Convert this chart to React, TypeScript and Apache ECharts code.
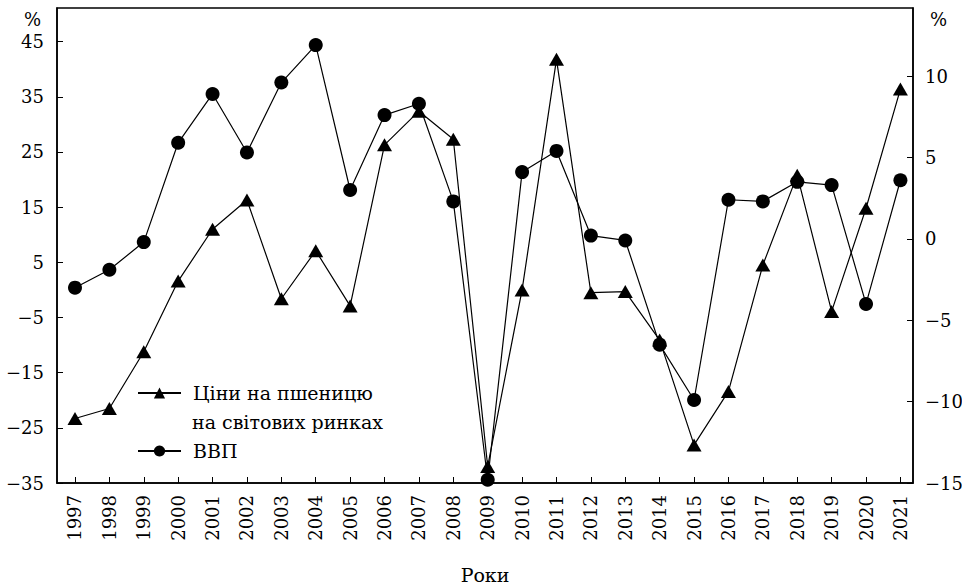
import React, { useEffect, useRef } from "react";
import * as echarts from "echarts";

const years = [1997, 1998, 1999, 2000, 2001, 2002, 2003, 2004, 2005, 2006, 2007, 2008, 2009, 2010, 2011, 2012, 2013, 2014, 2015, 2016, 2017, 2018, 2019, 2020, 2021];
const wheatPrices = [-23.3, -21.5, -11.2, 1.6, 11.0, 16.3, -1.6, 7.1, -2.9, 26.3, 32.4, 27.3, -32.0, 0.0, 41.8, -0.5, -0.3, -9.1, -28.1, -18.4, 4.5, 20.8, -3.9, 14.8, 36.4];
const gdp = [-3.0, -1.9, -0.2, 5.9, 8.9, 5.3, 9.6, 11.9, 3.0, 7.6, 8.3, 2.3, -14.8, 4.1, 5.4, 0.2, -0.1, -6.5, -9.9, 2.4, 2.3, 3.5, 3.3, -4.0, 3.6];
const leftTicks = [-35, -25, -15, -5, 5, 15, 25, 35, 45];
const rightTicks = [-15, -10, -5, 0, 5, 10];
const wheatName = "Ціни на пшеницю";
const wheatName2 = "на світових ринках";
const gdpName = "ВВП";
const xName = "Роки";

const FONT = "DejaVu Serif";
const fmt = (v: number) => (v < 0 ? "\u2212" + Math.abs(v) : String(v));

export default function App() {
  const ref = useRef<HTMLDivElement>(null);
  useEffect(() => {
    if (!ref.current) return;
    const chart = echarts.init(ref.current, undefined, { renderer: "svg" });
    const labelStyle = { color: "#000", fontFamily: FONT, fontSize: 18 };
    chart.setOption({
      animation: false,
      backgroundColor: "#fff",
      textStyle: { fontFamily: FONT },
      grid: { left: 57, top: 8, right: 49, bottom: 104, show: true, borderColor: "#000", borderWidth: 1.5, outerBoundsMode: "none", containLabel: false },
      legend: {
        orient: "vertical",
        left: 137,
        top: 382,
        padding: 0,
        itemWidth: 43,
        itemHeight: 14,
        itemGap: 36,
        textStyle: { color: "#000", fontFamily: FONT, fontSize: 19, lineHeight: 22, padding: [0, 0, 0, 7] },
        data: [wheatName, gdpName],
      },
      xAxis: {
        type: "value",
        min: 1996.477,
        max: 2021.366,
        name: xName,
        nameLocation: "middle",
        nameGap: 82,
        nameTextStyle: { ...labelStyle, fontSize: 19 },
        axisLine: { show: true, onZero: false, lineStyle: { color: "#000", width: 1.5 } },
        axisTick: { show: true, inside: true, length: 6, customValues: years, lineStyle: { color: "#000", width: 1 } },
        axisLabel: { ...labelStyle, rotate: 90, margin: 12, customValues: years, formatter: (v: number) => String(v) },
        splitLine: { show: false },
      },
      yAxis: [
        {
          type: "value",
          min: -35,
          max: 51.1,
          position: "left",
          axisLine: { show: true, onZero: false, lineStyle: { color: "#000", width: 1.5 } },
          axisTick: { show: true, inside: true, length: 6, customValues: leftTicks, lineStyle: { color: "#000", width: 1 } },
          axisLabel: { ...labelStyle, margin: 13, customValues: leftTicks, formatter: fmt },
          splitLine: { show: false },
        },
        {
          type: "value",
          min: -15,
          max: 14.18,
          position: "right",
          axisLine: { show: true, onZero: false, lineStyle: { color: "#000", width: 1.5 } },
          axisTick: { show: true, inside: true, length: 6, customValues: rightTicks, lineStyle: { color: "#000", width: 1 } },
          axisLabel: { ...labelStyle, margin: 12, customValues: rightTicks, formatter: fmt },
          splitLine: { show: false },
        },
      ],
      graphic: [
        { type: "text", left: 24, top: 10, style: { text: "%", fill: "#000", font: `18px ${FONT}` } },
        { type: "text", left: 930, top: 10, style: { text: "%", fill: "#000", font: `18px ${FONT}` } },
        { type: "text", left: 192, top: 412, style: { text: wheatName2, fill: "#000", font: `19px ${FONT}` } },
      ],
      series: [
        {
          name: wheatName,
          type: "line",
          yAxisIndex: 0,
          data: years.map((y, i) => [y, wheatPrices[i]]),
          symbol: "triangle",
          symbolSize: [15, 13],
          lineStyle: { color: "#000", width: 1.2 },
          itemStyle: { color: "#000" },
          color: "#000",
        },
        {
          name: gdpName,
          type: "line",
          yAxisIndex: 1,
          data: years.map((y, i) => [y, gdp[i]]),
          symbol: "circle",
          symbolSize: 14,
          lineStyle: { color: "#000", width: 1.2 },
          itemStyle: { color: "#000" },
          color: "#000",
        },
      ],
    });
    return () => chart.dispose();
  }, []);
  return <div ref={ref} style={{ position: "absolute", left: 0, top: 0, width: 962, height: 587, background: "#fff" }} />;
}
